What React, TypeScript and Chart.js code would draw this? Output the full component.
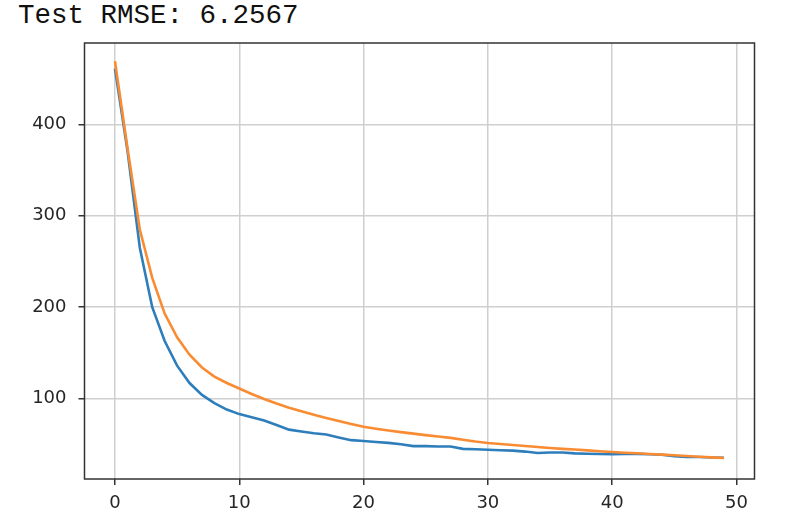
import React, { useEffect, useRef } from "react";
import { Chart, registerables } from "chart.js";

Chart.register(...registerables);

const titleText = "Test RMSE: 6.2567";

const epochs = [
  0, 1, 2, 3, 4, 5, 6, 7, 8, 9, 10, 11, 12, 13, 14, 15, 16, 17, 18, 19, 20, 21, 22, 23, 24,
  25, 26, 27, 28, 29, 30, 31, 32, 33, 34, 35, 36, 37, 38, 39, 40, 41, 42, 43, 44, 45, 46, 47, 48, 49,
];

const trainLoss = [
  461, 372, 265, 200, 163, 136, 117, 104, 95, 88, 83, 79.5, 76, 71, 66, 64, 62, 60.6, 57.5, 54.5,
  53.5, 52.5, 51.5, 50, 48, 48, 47.5, 47.5, 45, 44.5, 44, 43.5, 43, 42, 40.5, 41, 41, 40, 39.7, 39.3,
  39, 39.5, 39.5, 39, 38.5, 37, 36, 36, 35.5, 35.3,
];

const valLoss = [
  469, 375, 285, 232, 193, 167, 148, 134, 124, 117, 111, 105, 99.5, 94.5, 90, 86, 82.3, 78.8, 75.5, 72.2,
  69.2, 67, 65, 63.3, 61.6, 60, 58.5, 57, 55, 53, 51.4, 50.3, 49.2, 48.1, 47, 46, 45, 44.2, 43.3, 42.4,
  41.6, 40.8, 40.1, 39.4, 38.7, 38, 37.2, 36.4, 35.7, 35,
];

const xTicks = [0, 10, 20, 30, 40, 50];
const yTicks = [100, 200, 300, 400];

const framePlugin = {
  id: "frame",
  afterDraw(chart: any) {
    const { ctx, chartArea } = chart;
    ctx.save();
    ctx.strokeStyle = "#333333";
    ctx.lineWidth = 1.5;
    ctx.strokeRect(chartArea.left, chartArea.top, chartArea.right - chartArea.left, chartArea.bottom - chartArea.top);
    ctx.restore();
  },
};

export default function App() {
  const ref = useRef<HTMLCanvasElement | null>(null);

  useEffect(() => {
    if (!ref.current) return;
    const tickFont = { family: "'DejaVu Sans'", size: 18 };
    const chart = new Chart(ref.current, {
      type: "line",
      data: {
        datasets: [
          {
            label: "train",
            data: epochs.map((e, i) => ({ x: e, y: trainLoss[i] })),
            borderColor: "#2f7ebc",
            borderWidth: 2.6,
            pointRadius: 0,
            tension: 0,
            fill: false,
            order: 2,
          },
          {
            label: "val",
            data: epochs.map((e, i) => ({ x: e, y: valLoss[i] })),
            borderColor: "#f98c33",
            borderWidth: 2.6,
            pointRadius: 0,
            tension: 0,
            fill: false,
            order: 1,
          },
        ],
      },
      options: {
        animation: false,
        responsive: false,
        maintainAspectRatio: false,
        layout: { padding: { top: 43, right: 37.5, left: 0, bottom: 0 } },
        plugins: {
          legend: { display: false },
          tooltip: { enabled: false },
          title: { display: false },
        },
        scales: {
          x: {
            type: "linear",
            min: -2.45,
            max: 51.45,
            afterBuildTicks: (s: any) => {
              s.ticks = xTicks.map((v) => ({ value: v }));
            },
            afterFit: (s: any) => {
              s.height = 45;
            },
            ticks: { font: tickFont, color: "#262626", padding: 8, maxRotation: 0, autoSkip: false },
            grid: { color: "#cfcfcf", lineWidth: 1.5, tickColor: "#333333", tickLength: 6, tickWidth: 1.5 },
            border: { display: false },
          },
          y: {
            type: "linear",
            min: 12,
            max: 489,
            afterBuildTicks: (s: any) => {
              s.ticks = yTicks.map((v) => ({ value: v }));
            },
            afterFit: (s: any) => {
              s.width = 84.5;
            },
            ticks: { font: tickFont, color: "#262626", padding: 12, autoSkip: false },
            grid: { color: "#cfcfcf", lineWidth: 1.5, tickColor: "#333333", tickLength: 6, tickWidth: 1.5 },
            border: { display: false },
          },
        },
      },
      plugins: [framePlugin],
    } as any);
    return () => chart.destroy();
  }, []);

  return (
    <div style={{ position: "absolute", left: 0, top: 0, width: 792, height: 524, background: "#ffffff" }}>
      <div
        style={{
          position: "absolute",
          left: 18,
          top: 2,
          fontFamily: "'Liberation Mono', monospace",
          fontSize: "27.5px",
          lineHeight: "28px",
          color: "#111111",
          whiteSpace: "pre",
        }}
      >
        {titleText}
      </div>
      <canvas ref={ref} width={792} height={524} style={{ position: "absolute", left: 0, top: 0 }} />
    </div>
  );
}
